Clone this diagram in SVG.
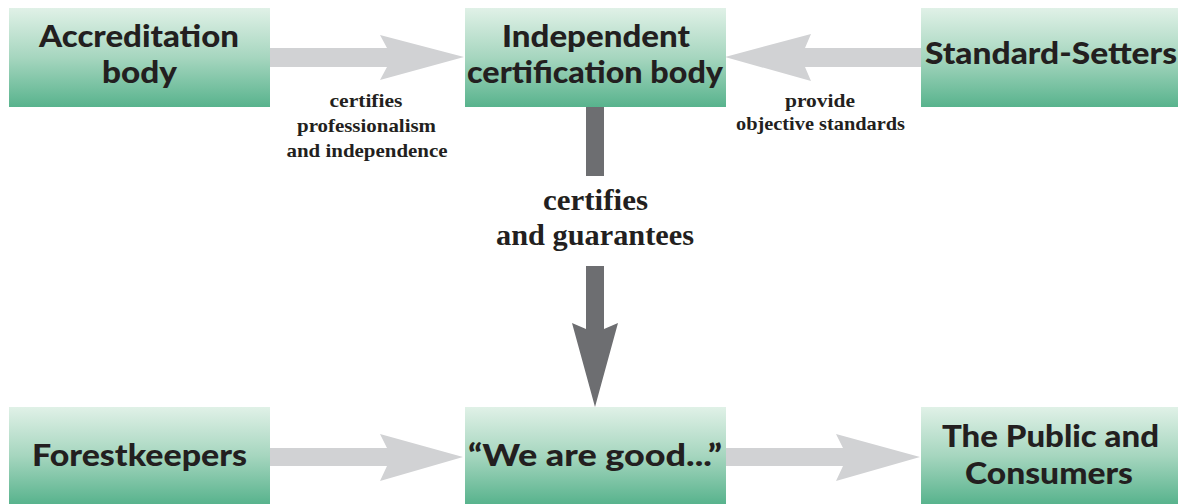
<svg xmlns="http://www.w3.org/2000/svg" width="1178" height="504" viewBox="0 0 1178 504">
<defs>
<linearGradient id="g" x1="0" y1="0" x2="0" y2="1">
<stop offset="0" stop-color="#e0f1e7"/>
<stop offset="0.5" stop-color="#a6d6bf"/>
<stop offset="1" stop-color="#58b38d"/>
</linearGradient>
<style>
.box{fill:url(#g)}
.t{font-family:Lato,"Liberation Sans",sans-serif;font-weight:900;font-size:30px;fill:#231f20;text-anchor:middle}
.s{font-family:"Liberation Serif",serif;font-weight:bold;font-size:19.5px;fill:#231f20;text-anchor:middle}
.b{font-family:"Liberation Serif",serif;font-weight:bold;font-size:29px;fill:#231f20;text-anchor:middle}
.ga{fill:#d1d2d4}
.da{fill:#6d6e71}
</style>
</defs>
<rect width="1178" height="504" fill="#ffffff"/>
<g id="connectors">
<path class="ga" d="M270,48 H387 L380,35 L464,57 L380,80 L387,67 H270 Z"/>
<path class="ga" d="M921,48 H805 L811,34 L725,57 L811,81 L805,67 H921 Z"/>
<path class="ga" d="M270,448 H387 L380,434 L463,457 L380,481 L387,466 H270 Z"/>
<path class="ga" d="M726,448 H843 L836,434 L920,457 L836,481 L843,466 H726 Z"/>
<rect class="da" x="586" y="106" width="18" height="70"/>
<path class="da" d="M586,266 H604 V329 L618,323 L595,407 L572,323 L586,329 Z"/>
<text class="s" x="366" y="107" textLength="73" lengthAdjust="spacingAndGlyphs">certifies</text>
<text class="s" x="366.5" y="132" textLength="139" lengthAdjust="spacingAndGlyphs">professionalism</text>
<text class="s" x="367" y="157" textLength="161" lengthAdjust="spacingAndGlyphs">and independence</text>
<text class="s" x="820" y="107" textLength="70" lengthAdjust="spacingAndGlyphs">provide</text>
<text class="s" x="820.5" y="130" textLength="169" lengthAdjust="spacingAndGlyphs">objective standards</text>
<text class="b" x="595.5" y="210" textLength="105" lengthAdjust="spacingAndGlyphs">certifies</text>
<text class="b" x="595" y="245" textLength="198" lengthAdjust="spacingAndGlyphs">and guarantees</text>
</g>
<g id="accreditation">
<rect class="box" x="9" y="8" width="261" height="99"/>
<text class="t" x="139" y="47" textLength="200" lengthAdjust="spacingAndGlyphs">Accreditation</text>
<text class="t" x="139.5" y="83" textLength="75" lengthAdjust="spacingAndGlyphs">body</text>
</g>
<g id="independent">
<rect class="box" x="465" y="8" width="261" height="99"/>
<text class="t" x="596" y="47" textLength="188" lengthAdjust="spacingAndGlyphs">Independent</text>
<text class="t" x="595" y="83" textLength="256" lengthAdjust="spacingAndGlyphs">certification body</text>
</g>
<g id="standard-setters">
<rect class="box" x="921" y="8" width="261" height="99"/>
<text class="t" x="1051" y="64" textLength="252" lengthAdjust="spacingAndGlyphs">Standard-Setters</text>
</g>
<g id="forestkeepers">
<rect class="box" x="9" y="407" width="261" height="97"/>
<text class="t" x="139.5" y="466" textLength="215" lengthAdjust="spacingAndGlyphs">Forestkeepers</text>
</g>
<g id="we-are-good">
<rect class="box" x="465" y="407" width="261" height="97"/>
<text class="t" x="595" y="466" textLength="254" lengthAdjust="spacingAndGlyphs">“We are good...”</text>
</g>
<g id="public">
<rect class="box" x="921" y="407" width="261" height="97"/>
<text class="t" x="1050.5" y="447" textLength="217" lengthAdjust="spacingAndGlyphs">The Public and</text>
<text class="t" x="1049" y="484" textLength="168" lengthAdjust="spacingAndGlyphs">Consumers</text>
</g>
</svg>
